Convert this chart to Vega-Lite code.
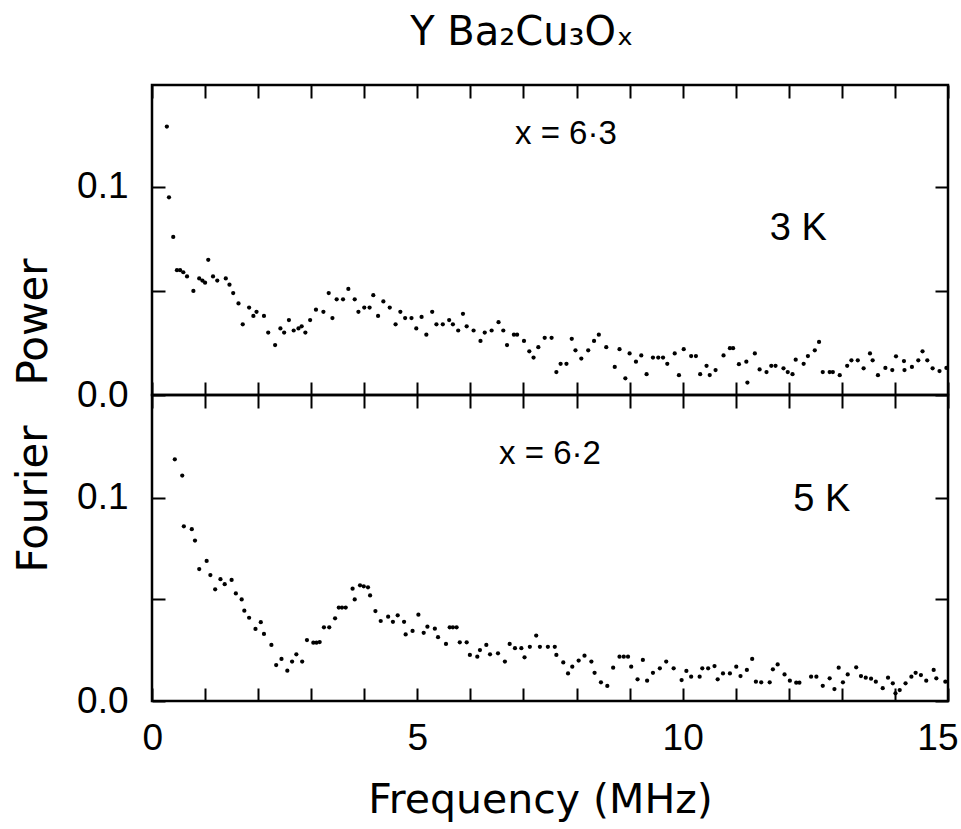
{
  "$schema": "https://vega.github.io/schema/vega-lite/v6.json",
  "background": "white",
  "padding": {"left": 11, "top": 12, "right": 5, "bottom": 5},
  "spacing": 0,
  "bounds": "flush",
  "config": {
    "view": {"stroke": "black", "strokeWidth": 2.5},
    "axis": {
      "domain": false, "grid": false, "tickColor": "black", "tickWidth": 2, "tickSize": -13,
      "labelColor": "black", "labelFont": "Liberation Sans", "labelFontSize": 37, "labelFlush": false, "labelOverlap": false,
      "titleFont": "DejaVu Sans", "titleColor": "black", "titleFontWeight": "normal"
    },
    "title": {"font": "DejaVu Sans", "fontSize": 40, "fontWeight": "normal", "color": "black"}
  },
  "title": {"text": "Y Ba₂Cu₃Oₓ", "offset": 30, "anchor": "middle", "frame": "group", "dx": -28},
  "datasets": {
    "top": [
      {"f":0.28,"p":0.129},{"f":0.32,"p":0.095},{"f":0.40,"p":0.076},{"f":0.47,"p":0.060},{"f":0.53,"p":0.060},{"f":0.59,"p":0.059},{"f":0.66,"p":0.057},{"f":0.78,"p":0.050},{"f":0.89,"p":0.056},{"f":0.95,"p":0.055},{"f":1.00,"p":0.054},{"f":1.06,"p":0.065},{"f":1.15,"p":0.057},{"f":1.23,"p":0.055},{"f":1.39,"p":0.056},{"f":1.46,"p":0.053},{"f":1.53,"p":0.049},{"f":1.63,"p":0.044},{"f":1.71,"p":0.034},{"f":1.83,"p":0.042},{"f":1.91,"p":0.038},{"f":1.97,"p":0.040},{"f":2.11,"p":0.038},{"f":2.19,"p":0.030},{"f":2.32,"p":0.024},{"f":2.42,"p":0.032},{"f":2.49,"p":0.030},{"f":2.58,"p":0.036},{"f":2.67,"p":0.031},{"f":2.76,"p":0.032},{"f":2.82,"p":0.033},{"f":2.89,"p":0.030},{"f":2.98,"p":0.036},{"f":3.09,"p":0.041},{"f":3.23,"p":0.040},{"f":3.33,"p":0.049},{"f":3.40,"p":0.037},{"f":3.48,"p":0.046},{"f":3.60,"p":0.046},{"f":3.70,"p":0.051},{"f":3.82,"p":0.046},{"f":3.89,"p":0.040},{"f":4.00,"p":0.042},{"f":4.10,"p":0.042},{"f":4.17,"p":0.048},{"f":4.26,"p":0.038},{"f":4.36,"p":0.045},{"f":4.48,"p":0.042},{"f":4.59,"p":0.034},{"f":4.68,"p":0.040},{"f":4.77,"p":0.037},{"f":4.89,"p":0.037},{"f":4.98,"p":0.032},{"f":5.08,"p":0.0375},{"f":5.17,"p":0.029},{"f":5.28,"p":0.040},{"f":5.36,"p":0.034},{"f":5.48,"p":0.034},{"f":5.60,"p":0.036},{"f":5.67,"p":0.034},{"f":5.77,"p":0.031},{"f":5.86,"p":0.039},{"f":5.93,"p":0.033},{"f":6.06,"p":0.031},{"f":6.19,"p":0.026},{"f":6.27,"p":0.030},{"f":6.40,"p":0.031},{"f":6.53,"p":0.035},{"f":6.62,"p":0.031},{"f":6.69,"p":0.024},{"f":6.82,"p":0.029},{"f":6.88,"p":0.029},{"f":7.01,"p":0.026},{"f":7.11,"p":0.021},{"f":7.19,"p":0.018},{"f":7.28,"p":0.023},{"f":7.40,"p":0.0275},{"f":7.53,"p":0.0275},{"f":7.62,"p":0.011},{"f":7.70,"p":0.015},{"f":7.81,"p":0.015},{"f":7.91,"p":0.027},{"f":7.98,"p":0.0215},{"f":8.09,"p":0.0175},{"f":8.22,"p":0.0215},{"f":8.33,"p":0.026},{"f":8.42,"p":0.029},{"f":8.56,"p":0.023},{"f":8.72,"p":0.0135},{"f":8.81,"p":0.022},{"f":8.92,"p":0.008},{"f":9.00,"p":0.020},{"f":9.12,"p":0.016},{"f":9.22,"p":0.019},{"f":9.32,"p":0.010},{"f":9.44,"p":0.018},{"f":9.54,"p":0.018},{"f":9.63,"p":0.018},{"f":9.71,"p":0.015},{"f":9.85,"p":0.020},{"f":9.93,"p":0.0095},{"f":10.02,"p":0.022},{"f":10.16,"p":0.0187},{"f":10.25,"p":0.0187},{"f":10.33,"p":0.010},{"f":10.45,"p":0.014},{"f":10.51,"p":0.0096},{"f":10.62,"p":0.012},{"f":10.77,"p":0.019},{"f":10.89,"p":0.0225},{"f":10.95,"p":0.0225},{"f":11.06,"p":0.0148},{"f":11.20,"p":0.016},{"f":11.22,"p":0.006},{"f":11.36,"p":0.020},{"f":11.45,"p":0.0123},{"f":11.58,"p":0.011},{"f":11.67,"p":0.014},{"f":11.75,"p":0.014},{"f":11.90,"p":0.0128},{"f":11.98,"p":0.011},{"f":12.07,"p":0.010},{"f":12.13,"p":0.017},{"f":12.28,"p":0.015},{"f":12.36,"p":0.0187},{"f":12.49,"p":0.0215},{"f":12.57,"p":0.0255},{"f":12.64,"p":0.011},{"f":12.77,"p":0.011},{"f":12.83,"p":0.011},{"f":12.96,"p":0.0095},{"f":13.10,"p":0.014},{"f":13.18,"p":0.0167},{"f":13.30,"p":0.0167},{"f":13.41,"p":0.0128},{"f":13.53,"p":0.020},{"f":13.58,"p":0.0167},{"f":13.68,"p":0.0095},{"f":13.82,"p":0.013},{"f":13.95,"p":0.012},{"f":14.02,"p":0.0186},{"f":14.17,"p":0.0163},{"f":14.18,"p":0.012},{"f":14.32,"p":0.0135},{"f":14.44,"p":0.0167},{"f":14.52,"p":0.021},{"f":14.61,"p":0.0167},{"f":14.71,"p":0.0128},{"f":14.84,"p":0.0115},{"f":14.97,"p":0.013}
    ],
    "bottom": [
      {"f":0.43,"p":0.119},{"f":0.57,"p":0.111},{"f":0.60,"p":0.086},{"f":0.75,"p":0.0846},{"f":0.81,"p":0.079},{"f":0.89,"p":0.065},{"f":1.03,"p":0.069},{"f":1.10,"p":0.062},{"f":1.19,"p":0.055},{"f":1.29,"p":0.060},{"f":1.37,"p":0.0575},{"f":1.50,"p":0.0596},{"f":1.58,"p":0.053},{"f":1.69,"p":0.050},{"f":1.74,"p":0.0445},{"f":1.83,"p":0.041},{"f":1.95,"p":0.0355},{"f":2.05,"p":0.0388},{"f":2.11,"p":0.033},{"f":2.25,"p":0.0276},{"f":2.34,"p":0.0177},{"f":2.44,"p":0.0207},{"f":2.55,"p":0.0149},{"f":2.64,"p":0.0194},{"f":2.72,"p":0.023},{"f":2.83,"p":0.0194},{"f":2.92,"p":0.030},{"f":3.04,"p":0.0287},{"f":3.10,"p":0.0287},{"f":3.16,"p":0.029},{"f":3.24,"p":0.0363},{"f":3.34,"p":0.0363},{"f":3.45,"p":0.0407},{"f":3.52,"p":0.046},{"f":3.58,"p":0.046},{"f":3.65,"p":0.046},{"f":3.78,"p":0.0553},{"f":3.82,"p":0.050},{"f":3.92,"p":0.057},{"f":3.99,"p":0.0565},{"f":4.07,"p":0.056},{"f":4.11,"p":0.052},{"f":4.21,"p":0.0443},{"f":4.31,"p":0.0394},{"f":4.45,"p":0.0415},{"f":4.54,"p":0.039},{"f":4.63,"p":0.0422},{"f":4.75,"p":0.039},{"f":4.78,"p":0.0328},{"f":4.91,"p":0.0345},{"f":5.02,"p":0.0425},{"f":5.12,"p":0.0336},{"f":5.19,"p":0.0366},{"f":5.33,"p":0.0356},{"f":5.39,"p":0.0314},{"f":5.54,"p":0.0281},{"f":5.61,"p":0.0363},{"f":5.67,"p":0.0363},{"f":5.74,"p":0.0363},{"f":5.80,"p":0.0289},{"f":5.93,"p":0.0289},{"f":5.99,"p":0.0227},{"f":6.13,"p":0.0218},{"f":6.18,"p":0.0251},{"f":6.30,"p":0.0276},{"f":6.37,"p":0.023},{"f":6.52,"p":0.0235},{"f":6.65,"p":0.0194},{"f":6.74,"p":0.0281},{"f":6.84,"p":0.026},{"f":6.96,"p":0.026},{"f":7.02,"p":0.0215},{"f":7.12,"p":0.0267},{"f":7.24,"p":0.0322},{"f":7.31,"p":0.0267},{"f":7.46,"p":0.0267},{"f":7.59,"p":0.0267},{"f":7.62,"p":0.0227},{"f":7.75,"p":0.019},{"f":7.84,"p":0.0136},{"f":7.92,"p":0.0169},{"f":8.04,"p":0.0199},{"f":8.15,"p":0.0223},{"f":8.28,"p":0.0194},{"f":8.34,"p":0.0139},{"f":8.46,"p":0.0092},{"f":8.58,"p":0.0074},{"f":8.69,"p":0.0164},{"f":8.81,"p":0.0218},{"f":8.89,"p":0.0218},{"f":8.97,"p":0.0218},{"f":9.03,"p":0.0169},{"f":9.15,"p":0.0107},{"f":9.25,"p":0.0202},{"f":9.33,"p":0.010},{"f":9.44,"p":0.0139},{"f":9.57,"p":0.0161},{"f":9.69,"p":0.0194},{"f":9.83,"p":0.0161},{"f":9.98,"p":0.0103},{"f":10.07,"p":0.0148},{"f":10.16,"p":0.012},{"f":10.32,"p":0.012},{"f":10.37,"p":0.0161},{"f":10.48,"p":0.0161},{"f":10.60,"p":0.0172},{"f":10.66,"p":0.0107},{"f":10.76,"p":0.0136},{"f":10.89,"p":0.0136},{"f":11.01,"p":0.0169},{"f":11.09,"p":0.0123},{"f":11.21,"p":0.0153},{"f":11.31,"p":0.0207},{"f":11.38,"p":0.0095},{"f":11.48,"p":0.0092},{"f":11.64,"p":0.0092},{"f":11.70,"p":0.0156},{"f":11.79,"p":0.018},{"f":11.92,"p":0.0131},{"f":12.02,"p":0.010},{"f":12.14,"p":0.009},{"f":12.20,"p":0.009},{"f":12.42,"p":0.012},{"f":12.52,"p":0.012},{"f":12.64,"p":0.0075},{"f":12.77,"p":0.0112},{"f":12.86,"p":0.0059},{"f":12.94,"p":0.0164},{"f":13.02,"p":0.0092},{"f":13.11,"p":0.0131},{"f":13.27,"p":0.0166},{"f":13.36,"p":0.0123},{"f":13.45,"p":0.0115},{"f":13.55,"p":0.011},{"f":13.64,"p":0.0095},{"f":13.77,"p":0.0063},{"f":13.87,"p":0.0115},{"f":13.96,"p":0.0087},{"f":14.01,"p":0.0038},{"f":14.09,"p":0.0054},{"f":14.20,"p":0.0087},{"f":14.31,"p":0.012},{"f":14.39,"p":0.0139},{"f":14.49,"p":0.0128},{"f":14.59,"p":0.010},{"f":14.73,"p":0.0153},{"f":14.78,"p":0.0112},{"f":14.95,"p":0.0095}
    ]
  },
  "vconcat": [
    {
      "width": 796, "height": 310,
      "layer": [
        {
          "data": {"name": "top"},
          "mark": {"type": "point", "filled": true, "color": "black", "size": 18, "opacity": 1},
          "encoding": {
            "x": {"field": "f", "type": "quantitative", "scale": {"domain": [0, 15], "nice": false},
                  "axis": {"orient": "bottom", "values": [0,1,2,3,4,5,6,7,8,9,10,11,12,13,14,15], "labels": false, "title": null}},
            "y": {"field": "p", "type": "quantitative", "scale": {"domain": [0, 0.149], "nice": false},
                  "axis": {"orient": "left", "values": [0, 0.05, 0.1], "labelPadding": 37,
                           "labelExpr": "abs(datum.value - 0.05) < 0.001 ? '' : format(datum.value, '.1f')", "title": null}}
          }
        },
        {
          "data": {"values": [{}]},
          "mark": {"type": "text", "font": "Liberation Sans", "fontSize": 33, "color": "black"},
          "encoding": {
            "x": {"datum": 7.8, "type": "quantitative",
                  "axis": {"orient": "top", "values": [0,1,2,3,4,5,6,7,8,9,10,11,12,13,14,15], "labels": false, "title": null}},
            "y": {"datum": 0.1255, "type": "quantitative",
                  "axis": {"orient": "right", "values": [0, 0.05, 0.1], "labels": false, "title": null}},
            "text": {"value": "x = 6·3"}
          }
        },
        {
          "data": {"values": [{}]},
          "mark": {"type": "text", "font": "Liberation Sans", "fontSize": 38, "color": "black"},
          "encoding": {
            "x": {"datum": 12.18, "type": "quantitative", "axis": null},
            "y": {"datum": 0.0798, "type": "quantitative", "axis": null},
            "text": {"value": "3 K"}
          }
        }
      ],
      "resolve": {"axis": {"x": "independent", "y": "independent"}}
    },
    {
      "width": 796, "height": 306,
      "layer": [
        {
          "data": {"name": "bottom"},
          "mark": {"type": "point", "filled": true, "color": "black", "size": 18, "opacity": 1},
          "encoding": {
            "x": {"field": "f", "type": "quantitative", "scale": {"domain": [0, 15], "nice": false},
                  "axis": {"orient": "bottom", "values": [0,1,2,3,4,5,6,7,8,9,10,11,12,13,14,15], "labelPadding": 32,
                           "labelFlush": true, "labelFlushOffset": 10,
                           "labelExpr": "datum.value % 5 == 0 ? datum.label : ''",
                           "title": "Frequency (MHz)", "titleFontSize": 41, "titlePadding": 24, "titleX": 388}},
            "y": {"field": "p", "type": "quantitative", "scale": {"domain": [0, 0.1507], "nice": false},
                  "axis": {"orient": "left", "values": [0, 0.05, 0.1], "labelPadding": 37,
                           "labelExpr": "abs(datum.value - 0.05) < 0.001 ? '' : format(datum.value, '.1f')",
                           "title": "Fourier\u00a0\u00a0\u00a0Power", "titleFontSize": 42, "titleY": 20, "titlePadding": 21}}
          }
        },
        {
          "data": {"values": [{}]},
          "mark": {"type": "text", "font": "Liberation Sans", "fontSize": 33, "color": "black"},
          "encoding": {
            "x": {"datum": 7.5, "type": "quantitative",
                  "axis": {"orient": "top", "values": [0,1,2,3,4,5,6,7,8,9,10,11,12,13,14,15], "labels": false, "title": null}},
            "y": {"datum": 0.1217, "type": "quantitative",
                  "axis": {"orient": "right", "values": [0, 0.05, 0.1], "labels": false, "title": null}},
            "text": {"value": "x = 6·2"}
          }
        },
        {
          "data": {"values": [{}]},
          "mark": {"type": "text", "font": "Liberation Sans", "fontSize": 38, "color": "black"},
          "encoding": {
            "x": {"datum": 12.62, "type": "quantitative", "axis": null},
            "y": {"datum": 0.099, "type": "quantitative", "axis": null},
            "text": {"value": "5 K"}
          }
        }
      ],
      "resolve": {"axis": {"x": "independent", "y": "independent"}}
    }
  ]
}
